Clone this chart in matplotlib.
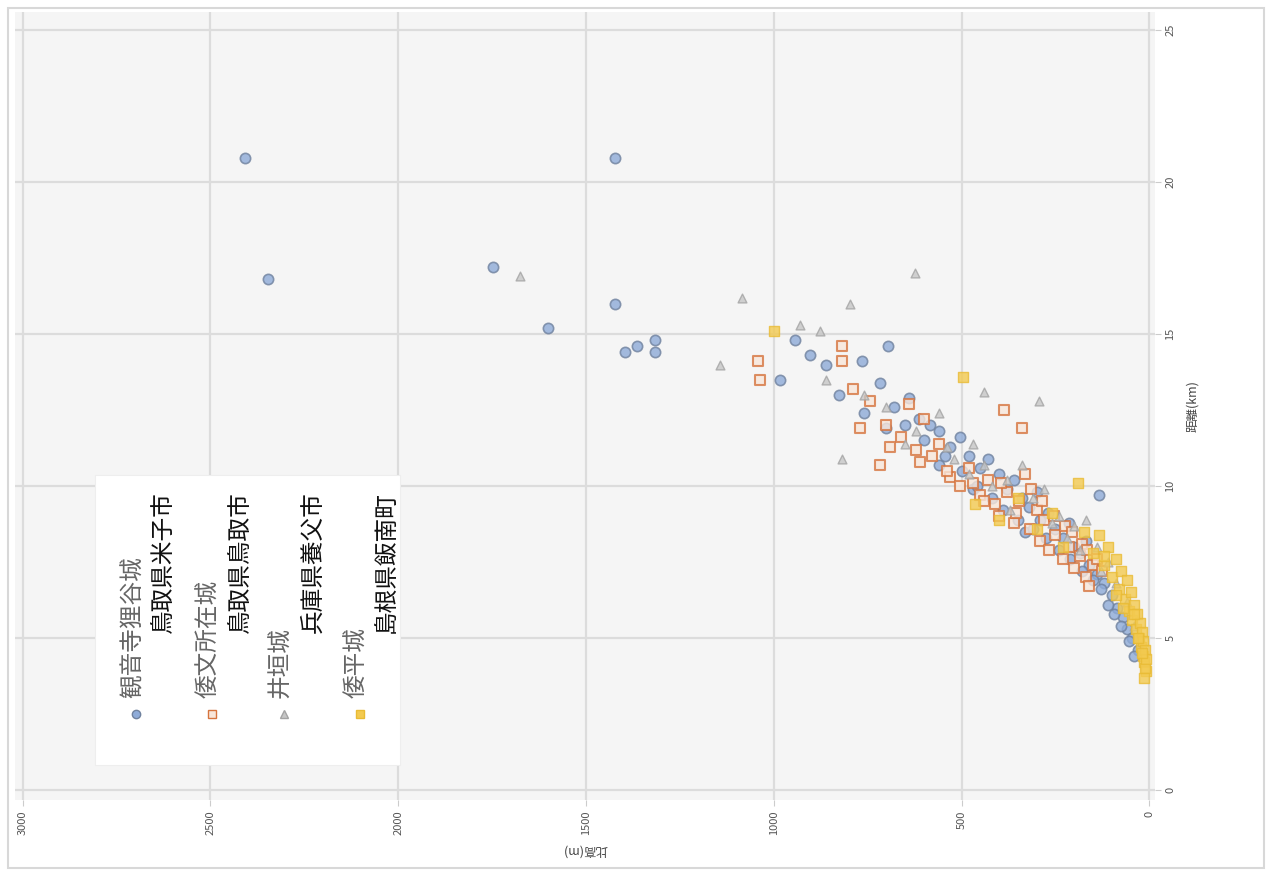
import matplotlib
matplotlib.use("Agg")
import matplotlib.pyplot as plt
from matplotlib.lines import Line2D
from matplotlib.patches import Rectangle

plt.rcParams['font.family'] = ['Noto Sans CJK JP', 'DejaVu Sans']

# ---- data: (height difference, distance) per castle ----
names = ["観音寺狸谷城", "倭文所在城", "井垣城", "倭平城"]
places = ["鳥取県米子市", "鳥取県鳥取市", "兵庫県養父市", "島根県飯南町"]

kannonji_h = [2407, 1423, 2346, 1748, 1601, 1423, 1396, 1364, 1317, 1317,
              944, 904, 984, 862, 766, 825, 718, 680, 640, 612, 585, 559,
              530, 505, 480, 452, 430, 399, 380, 360, 340, 320, 300, 290,
              270, 250, 230, 215, 200, 185, 170, 160, 140, 120, 100, 85, 70,
              60, 45, 30, 700, 760, 560, 470, 330, 697, 133,
              650, 600, 545, 500, 460, 420, 390, 350, 310, 275, 240, 210,
              180, 150, 130, 110, 95, 75, 55, 40]
kannonji_d = [20.8, 20.8, 16.8, 17.2, 15.2, 16.0, 14.4, 14.6, 14.8, 14.4,
              14.8, 14.3, 13.5, 14.0, 14.1, 13.0, 13.4, 12.6, 12.9, 12.2, 12.0, 11.8,
              11.3, 11.6, 11.0, 10.6, 10.9, 10.4, 9.9, 10.2, 9.6, 9.3, 9.8, 8.9,
              9.1, 8.6, 8.3, 8.8, 8.0, 7.8, 8.2, 7.4, 7.1, 6.8, 6.4, 6.0, 5.7,
              5.3, 5.0, 4.6, 11.9, 12.4, 10.7, 9.9, 8.5, 14.6, 9.7,
              12.0, 11.5, 11.0, 10.5, 10.0, 9.6, 9.2, 8.9, 8.6, 8.3, 7.9, 7.6,
              7.2, 6.9, 6.6, 6.1, 5.8, 5.4, 4.9, 4.4]

shitori_h = [1043, 1037, 817, 817, 790, 745, 771, 718, 700, 660, 640, 620,
             600, 580, 559, 530, 505, 480, 452, 430, 410, 399, 380, 360, 346,
             330, 319, 300, 290, 280, 266, 250, 230, 213, 200, 186, 170, 160,
             150, 386, 340,
             690, 610, 540, 470, 440, 395, 355, 315, 285, 255, 225, 205, 180,
             165, 140, 125]
shitori_d = [14.1, 13.5, 14.6, 14.1, 13.2, 12.8, 11.9, 10.7, 12.0, 11.6, 12.7, 11.2,
             12.2, 11.0, 11.4, 10.3, 10.0, 10.6, 9.7, 10.2, 9.4, 9.0, 9.8, 8.8, 9.5,
             10.4, 8.6, 9.2, 8.2, 8.9, 7.9, 8.4, 7.6, 8.0, 7.3, 7.7, 7.0, 6.7,
             7.4, 12.5, 11.9,
             11.3, 10.8, 10.5, 10.1, 9.5, 10.1, 9.1, 9.9, 9.5, 9.0, 8.7, 8.5, 8.1,
             7.9, 7.6, 7.2]

igaki_h = [1676, 1144, 1085, 798, 625, 931, 878, 817, 293, 439, 860, 760,
           700, 650, 560, 520, 470, 420, 370, 340, 280, 240, 200, 170, 140,
           110, 90, 60, 40, 25,
           620, 540, 480, 440, 380, 310, 260, 220, 185, 130]
igaki_d = [16.9, 14.0, 16.2, 16.0, 17.0, 15.3, 15.1, 10.9, 12.8, 13.1, 13.5, 13.0,
           12.6, 11.4, 12.4, 10.9, 11.4, 10.0, 9.2, 10.7, 9.9, 9.0, 8.7, 8.9, 8.0,
           7.5, 6.8, 6.2, 5.4, 5.0,
           11.8, 11.3, 10.4, 10.7, 10.2, 9.6, 8.8, 8.3, 7.9, 7.2]

wahei_h = [998, 497, 465, 400, 350, 300, 260, 230, 191, 175, 150, 133, 120,
           110, 100, 90, 80, 75, 65, 60, 55, 50, 45, 40, 35, 32, 28, 25, 22,
           20, 18, 16, 14, 12, 10, 12, 15, 8, 20, 30, 40, 70, 90, 120]
wahei_d = [15.1, 13.6, 9.4, 8.9, 9.6, 8.6, 9.1, 8.0, 10.1, 8.5, 7.8, 8.4, 7.4,
           8.0, 7.0, 7.6, 6.6, 7.2, 6.3, 6.9, 5.9, 6.5, 5.6, 6.1, 5.3, 5.8, 5.0, 5.5, 4.7,
           5.2, 4.4, 4.9, 4.2, 4.6, 3.9, 4.0, 3.7, 4.3, 4.5, 5.0, 5.8, 6.0, 6.4, 7.7]

h_ticks = [0, 500, 1000, 1500, 2000, 2500, 3000]
d_ticks = [0, 5, 10, 15, 20, 25]
h_label = "比高(m)"
d_label = "距離(km)"

styles = [
    dict(marker="o", s=55, facecolor="#8eabd8", edgecolor="#6f819e", linewidths=1.2),
    dict(marker="s", s=55, facecolor="#f8e6da", edgecolor="#d6743e", linewidths=1.5),
    dict(marker="^", s=40, facecolor="#c6c6c6", edgecolor="#a3a3a3", linewidths=1.0),
    dict(marker="s", s=55, facecolor="#f3ca50", edgecolor="#e9bb34", linewidths=1.0),
]
series = [(kannonji_h, kannonji_d), (shitori_h, shitori_d),
          (igaki_h, igaki_d), (wahei_h, wahei_d)]

W, H = 1272, 876
fig = plt.figure(figsize=(W / 100, H / 100), dpi=100)
fig.patch.set_facecolor("white")

# axes laid out sideways: height difference runs right-to-left, distance upward
ax = fig.add_axes([15 / W, 1 - 800 / H, 1140 / W, 788 / H])
ax.set_facecolor("#f5f5f5")
for sp in ax.spines.values():
    sp.set_visible(False)

for (hh, dd), st in zip(series, styles):
    ax.scatter(hh, dd, alpha=0.8, zorder=3, **st)

ax.set_xlim(3020, -15)
ax.set_ylim(-0.33, 25.6)
ax.set_xticks(h_ticks)
ax.set_yticks(d_ticks)
ax.yaxis.tick_right()
ax.yaxis.set_label_position("right")
ax.tick_params(axis="both", length=4, color="#cccccc", labelsize=8, labelcolor="#555555")
for t in ax.get_xticklabels():
    t.set_rotation(90)
for t in ax.get_yticklabels():
    t.set_rotation(90)
    t.set_va("center")
ax.grid(True, color="#dcdcdc", linewidth=1.6, zorder=0)
ax.set_axisbelow(True)

ax.set_xlabel(h_label, fontsize=9, color="#444444", rotation=180, labelpad=6)
ax.set_ylabel(d_label, fontsize=9, color="#444444", rotation=90, labelpad=8)

# legend panel
fig.add_artist(Rectangle((95 / W, 1 - 765 / H), 305 / W, 290 / H,
                         transform=fig.transFigure, facecolor="white",
                         edgecolor="#eeeeee", linewidth=0.8, zorder=5))
line1_x = [133, 209, 281, 357]
line2_x = [163, 240, 313, 387]
for i, st in enumerate(styles):
    fig.add_artist(Line2D([(line1_x[i] + 3) / W], [1 - 714 / H], transform=fig.transFigure,
                          marker=st["marker"], markersize=6, linestyle="none",
                          markerfacecolor=st["facecolor"], markeredgecolor=st["edgecolor"],
                          markeredgewidth=1.0, zorder=6))
    fig.text(line1_x[i] / W, 1 - 698 / H, names[i], rotation=90, ha="center", va="bottom",
             fontsize=17, color="#666666", zorder=6)
    fig.text(line2_x[i] / W, 1 - 633 / H, places[i], rotation=90, ha="center", va="bottom",
             fontsize=17, color="#111111", zorder=6)

# outer frame
fig.add_artist(Rectangle((8 / W, 8 / H), 1 - 16 / W, 1 - 16 / H, transform=fig.transFigure,
                         facecolor="none", edgecolor="#d8d8d8", linewidth=1.5))

fig.savefig("out.png", dpi=100)
